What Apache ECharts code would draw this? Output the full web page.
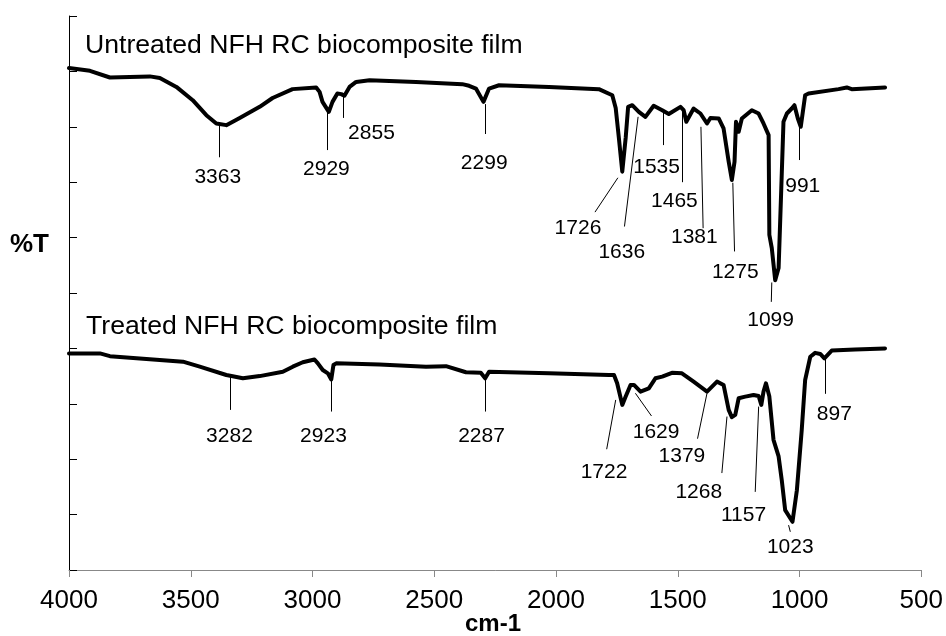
<!DOCTYPE html>
<html>
<head>
<meta charset="utf-8">
<script src="https://cdn.jsdelivr.net/npm/echarts@6/dist/echarts.min.js"></script>
<style>html,body{margin:0;padding:0;background:#fff}#c{width:946px;height:636px}</style>
</head>
<body>
<div id="c"></div>
<script>
// ---- Data (wavenumber cm-1, %T arbitrary units) ----
const untreatedWn = [4000,3914,3832,3668,3627,3559,3492,3436,3395,3354,3299,3217,3164,3082,2985,2971,2959,2933,2918,2898,2882,2869,2848,2821,2766,2575,2385,2357,2329,2298,2275,2234,2029,1824,1769,1755,1742,1728,1714,1704,1687,1660,1633,1599,1564,1537,1489,1476,1465,1435,1407,1380,1366,1332,1312,1291,1278,1267,1261,1250,1237,1196,1168,1148,1127,1124,1114,1100,1086,1075,1066,1052,1032,1021,1007,995,977,963,840,806,786,649];
const untreatedT = [90.6,90.1,88.9,89.1,88.8,87.2,84.8,82.1,80.6,80.3,81.6,83.6,85.2,86.8,87.1,86.3,84.5,82.7,84.5,86.0,85.9,85.6,87.2,88.1,88.4,88.1,87.7,87.4,86.9,84.5,86.9,87.5,87.2,86.8,85.7,83.4,78.0,71.9,78.0,83.6,83.9,82.7,81.8,83.8,83.0,82.3,83.6,83.0,80.9,83.3,82.4,80.6,81.6,81.5,79.7,73.7,70.4,73.7,80.9,79.1,81.5,83.0,82.4,80.6,78.5,60.5,58.1,52.3,54.5,68.9,80.9,82.4,83.3,83.9,81.5,80.0,85.7,86.0,86.8,87.1,86.8,87.1];

const treatedWn = [4000,3873,3832,3532,3463,3354,3286,3217,3122,3081,3040,2992,2978,2958,2937,2923,2914,2903,2725,2534,2452,2370,2309,2291,2275,2029,1783,1762,1749,1728,1714,1694,1680,1653,1619,1592,1564,1524,1483,1435,1380,1339,1312,1291,1278,1264,1250,1223,1189,1168,1157,1148,1138,1124,1107,1086,1073,1059,1029,1011,991,977,956,936,915,898,868,772,649];
const treatedT = [39.1,39.1,38.6,37.6,36.7,35.2,34.6,35.0,35.8,36.7,37.5,38.0,37.3,36.1,35.5,34.4,37.0,37.3,37.1,36.7,36.8,35.7,35.6,34.6,35.8,35.5,35.2,35.2,33.7,29.8,31.3,33.4,33.4,32.2,32.8,34.6,34.9,35.6,35.5,34.0,32.2,34.0,33.4,28.9,27.6,28.0,31.0,31.3,31.6,31.4,29.8,32.2,33.7,31.3,23.5,20.5,16.2,10.8,8.7,14.4,25.3,34.3,38.5,39.2,39.0,38.2,39.6,39.8,40.0];

// Peak annotations: label text, leader line [wn1, t1, wn2, t2], label anchor [wn, t]
const peakLabels = ['3363','2929','2855','2299','1726','1636','1535','1465','1381','1275','1099','991',
                    '3282','2923','2287','1722','1629','1379','1268','1157','1023','897'];
const peakLeaders = [
  [3385,80.3,3385,74.5],[2939,82.7,2939,75.8],[2873,85.7,2873,81.6],[2292,84.1,2292,78.7],
  [1746,70.8,1840,64.6],[1663,81.8,1719,62.0],[1560,82.5,1560,76.7],[1483,83.0,1483,70.0],
  [1405,80.0,1396,61.7],[1274,69.9,1267,57.5],[1114,51.9,1116,48.4],[1000,79.8,1000,74.0],
  [3336,35.0,3336,28.9],[2923,34.7,2923,28.6],[2292,34.3,2292,28.6],[1755,30.7,1792,21.8],
  [1674,31.9,1608,27.8],[1380,31.9,1419,23.7],[1298,27.7,1319,17.5],[1168,29.5,1182,14.1],
  [1045,8.1,1038,6.9],[895,38.3,895,31.8]
];
const peakAnchors = [
  [3389,70.9],[2943,72.4],[2758,78.9],[2295,73.5],[1910,61.7],[1730,57.4],[1587,72.7],[1514,66.6],
  [1432,60.0],[1264,53.8],[1119,45.1],[987,69.2],
  [3341,24.2],[2955,24.2],[2306,24.2],[1803,17.7],[1589,24.8],[1483,20.5],[1414,14.1],[1230,9.9],
  [1038,4.2],[857,28.1]
];
const titles = ['Untreated NFH RC biocomposite film','Treated NFH RC biocomposite film'];
const titleAnchors = [[3934,94.6],[3930,44.0]];
const xTicks = {min:500, max:4000, step:500};
const yRange = {min:0, max:100, step:10};
const xName = 'cm-1', yName = '%T';

// ---- Chart ----
const FONT = "'Liberation Sans', Arial, sans-serif";
const chart = echarts.init(document.getElementById('c'), null, {renderer:'canvas'});
const zip = (a,b) => a.map((v,i)=>[v,b[i]]);
const txt = {color:'#000', opacity:1, textBorderWidth:0, textShadowBlur:0, fontFamily:FONT};

chart.setOption({
  animation:false,
  backgroundColor:'#fff',
  grid:{left:69, right:23, top:16, bottom:66},
  xAxis:{
    type:'value', inverse:true, min:xTicks.min, max:xTicks.max, interval:xTicks.step,
    axisLine:{show:true, onZero:false, lineStyle:{color:'#888', width:1}},
    axisTick:{show:true, length:7, lineStyle:{color:'#888'}},
    axisLabel:{color:'#000', fontFamily:FONT, fontSize:26, margin:18, formatter:v=>String(v)},
    splitLine:{show:false}
  },
  yAxis:{
    type:'value', min:yRange.min, max:yRange.max, interval:yRange.step,
    axisLine:{show:true, lineStyle:{color:'#000', width:1}},
    axisTick:{show:true, inside:true, length:8, lineStyle:{color:'#000'}},
    axisLabel:{show:false}, splitLine:{show:false}
  },
  graphic:[
    {type:'text', left:10, top:232, style:{text:yName, font:"bold 26px "+FONT, fill:'#000'}},
    {type:'text', left:465, top:612, style:{text:xName, font:"bold 24px "+FONT, fill:'#000'}}
  ],
  series:[
    {type:'line', data:zip(untreatedWn, untreatedT), showSymbol:false, smooth:false,
     lineStyle:{color:'#000', width:4, join:'round', cap:'round'}, z:3},
    {type:'line', data:zip(treatedWn, treatedT), showSymbol:false, smooth:false,
     lineStyle:{color:'#000', width:4, join:'round', cap:'round'}, z:3},
    {type:'lines', coordinateSystem:'cartesian2d', polyline:false, silent:true,
     data:peakLeaders.map(l=>({coords:[[l[0],l[1]],[l[2],l[3]]]})),
     lineStyle:{color:'#000', width:1, opacity:1}, z:2},
    {type:'scatter', symbolSize:0, silent:true, itemStyle:{opacity:1},
     data:peakAnchors.map((p,i)=>({value:p, name:peakLabels[i]})),
     label:Object.assign({show:true, position:'inside', formatter:p=>p.name, fontSize:21}, txt)},
    {type:'scatter', symbolSize:0, silent:true, itemStyle:{opacity:1},
     data:titleAnchors.map((p,i)=>({value:p, name:titles[i]})),
     label:Object.assign({show:true, position:'right', distance:0, formatter:p=>p.name, fontSize:26.6}, txt)}
  ]
});
</script>
</body>
</html>
